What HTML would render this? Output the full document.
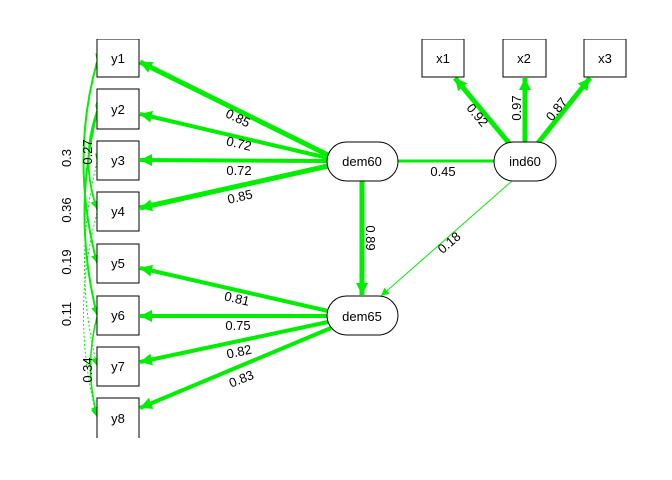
<!DOCTYPE html>
<html><head><style>html,body{margin:0;padding:0;background:#fff}svg{display:block}text{font-family:"Liberation Sans",Arial,sans-serif;font-size:13px;fill:#000}</style></head>
<body>
<svg width="672" height="480" viewBox="0 0 672 480" xmlns="http://www.w3.org/2000/svg">
<defs>
<marker id="a" markerUnits="userSpaceOnUse" markerWidth="14" markerHeight="14" refX="12" refY="6" orient="auto"><path d="M0,0 L12,6 L0,12 Z" fill="#00ee00"/></marker>
<marker id="s" markerUnits="userSpaceOnUse" markerWidth="10" markerHeight="10" refX="8" refY="4" orient="auto"><path d="M0,0 L8,4 L0,8 Z" fill="#00ee00"/></marker>
</defs>
<g stroke="#00ee00" fill="none">
<!-- covariances -->
<path d="M97,62 Q70,160 97,263" stroke-width="2" marker-start="url(#s)" marker-end="url(#s)"/>
<path d="M97,111 Q80,160 97,209" stroke-width="1.8" marker-start="url(#s)" marker-end="url(#s)"/>
<path d="M97,113 Q72,214 97,315" stroke-width="2" marker-start="url(#s)" marker-end="url(#s)"/>
<path d="M97,162 Q72,264 97,366" stroke-width="1" stroke-dasharray="2,2" marker-start="url(#s)" marker-end="url(#s)"/>
<path d="M97,213 Q70,315 97,417" stroke-width="1" stroke-dasharray="2,2" marker-start="url(#s)" marker-end="url(#s)"/>
<path d="M97,317 Q84,367 97,415" stroke-width="1.5" marker-start="url(#s)" marker-end="url(#s)"/>
<!-- loadings dem60 -->
<line x1="330" y1="156" x2="140" y2="62" stroke-width="5" marker-end="url(#a)"/>
<line x1="328" y1="158" x2="140" y2="114" stroke-width="4" marker-end="url(#a)"/>
<line x1="328" y1="161" x2="140" y2="160" stroke-width="4" marker-end="url(#a)"/>
<line x1="328" y1="166" x2="140" y2="208" stroke-width="5" marker-end="url(#a)"/>
<!-- loadings dem65 -->
<line x1="328" y1="311" x2="140" y2="268" stroke-width="4" marker-end="url(#a)"/>
<line x1="328" y1="316" x2="140" y2="316" stroke-width="4" marker-end="url(#a)"/>
<line x1="328" y1="322" x2="140" y2="362" stroke-width="4" marker-end="url(#a)"/>
<line x1="331" y1="328" x2="140" y2="408" stroke-width="4" marker-end="url(#a)"/>
<!-- ind60 -->
<line x1="509" y1="143" x2="455" y2="78" stroke-width="5" marker-end="url(#a)"/>
<line x1="525" y1="142" x2="525" y2="78" stroke-width="5" marker-end="url(#a)"/>
<line x1="538" y1="143" x2="590" y2="78" stroke-width="5" marker-end="url(#a)"/>
<line x1="398" y1="161" x2="494" y2="161" stroke-width="3"/>
<line x1="362" y1="181" x2="362" y2="295" stroke-width="5" marker-end="url(#a)"/>
<line x1="513" y1="180" x2="381" y2="296" stroke-width="1" marker-end="url(#s)"/>
</g>
<g fill="#fff" stroke="#000" stroke-width="1">
<rect x="97" y="39" width="42" height="38"/>
<rect x="97" y="89" width="42" height="40"/>
<rect x="97" y="141" width="42" height="39"/>
<rect x="97" y="192" width="42" height="39"/>
<rect x="97" y="244" width="42" height="39"/>
<rect x="97" y="296" width="42" height="39"/>
<rect x="97" y="347" width="42" height="39"/>
<rect x="97" y="398" width="42" height="45"/>
<rect x="422" y="39" width="42" height="38"/>
<rect x="503" y="39" width="43" height="38"/>
<rect x="584" y="39" width="42" height="38"/>
<rect x="327" y="142" width="71" height="39" rx="19.5"/>
<rect x="494" y="142" width="62" height="39" rx="19.5"/>
<rect x="327" y="296" width="71" height="39" rx="19.5"/>
</g>
<rect x="90" y="438" width="60" height="10" fill="#fff"/>
<rect x="90" y="30" width="60" height="9" fill="#fff"/>
<rect x="415" y="30" width="220" height="9" fill="#fff"/>
<g text-anchor="middle">
<text x="118" y="63">y1</text><text x="118" y="114">y2</text><text x="118" y="165">y3</text><text x="118" y="216">y4</text>
<text x="118" y="268">y5</text><text x="118" y="320">y6</text><text x="118" y="371">y7</text><text x="118" y="423">y8</text>
<text x="443" y="63">x1</text><text x="524" y="63">x2</text><text x="605" y="63">x3</text>
<text x="362" y="166">dem60</text><text x="525" y="166">ind60</text><text x="362" y="321">dem65</text>
<text x="236" y="122" transform="rotate(26 236 122)">0.85</text>
<text x="238" y="148" transform="rotate(13 238 148)">0.72</text>
<text x="239" y="175">0.72</text>
<text x="241" y="201" transform="rotate(-13 241 201)">0.85</text>
<text x="236" y="303" transform="rotate(13 236 303)">0.81</text>
<text x="238" y="330">0.75</text>
<text x="240" y="356" transform="rotate(-12 240 356)">0.82</text>
<text x="243" y="383" transform="rotate(-22 243 383)">0.83</text>
<text x="443" y="176">0.45</text>
<text x="474" y="118" transform="rotate(50 474 118)">0.92</text>
<text x="521" y="108" transform="rotate(-90 521 108)">0.97</text>
<text x="560" y="112" transform="rotate(-51 560 112)">0.87</text>
<text x="366" y="238" transform="rotate(90 366 238)">0.89</text>
<text x="452" y="246" transform="rotate(-41 452 246)">0.18</text>
<text x="71" y="158" transform="rotate(-90 71 158)">0.3</text>
<text x="92" y="152" transform="rotate(-90 92 152)">0.27</text>
<text x="71" y="210" transform="rotate(-90 71 210)">0.36</text>
<text x="71" y="262" transform="rotate(-90 71 262)">0.19</text>
<text x="71" y="314" transform="rotate(-90 71 314)">0.11</text>
<text x="92" y="370" transform="rotate(-90 92 370)">0.34</text>
</g>
</svg>
</body></html>
